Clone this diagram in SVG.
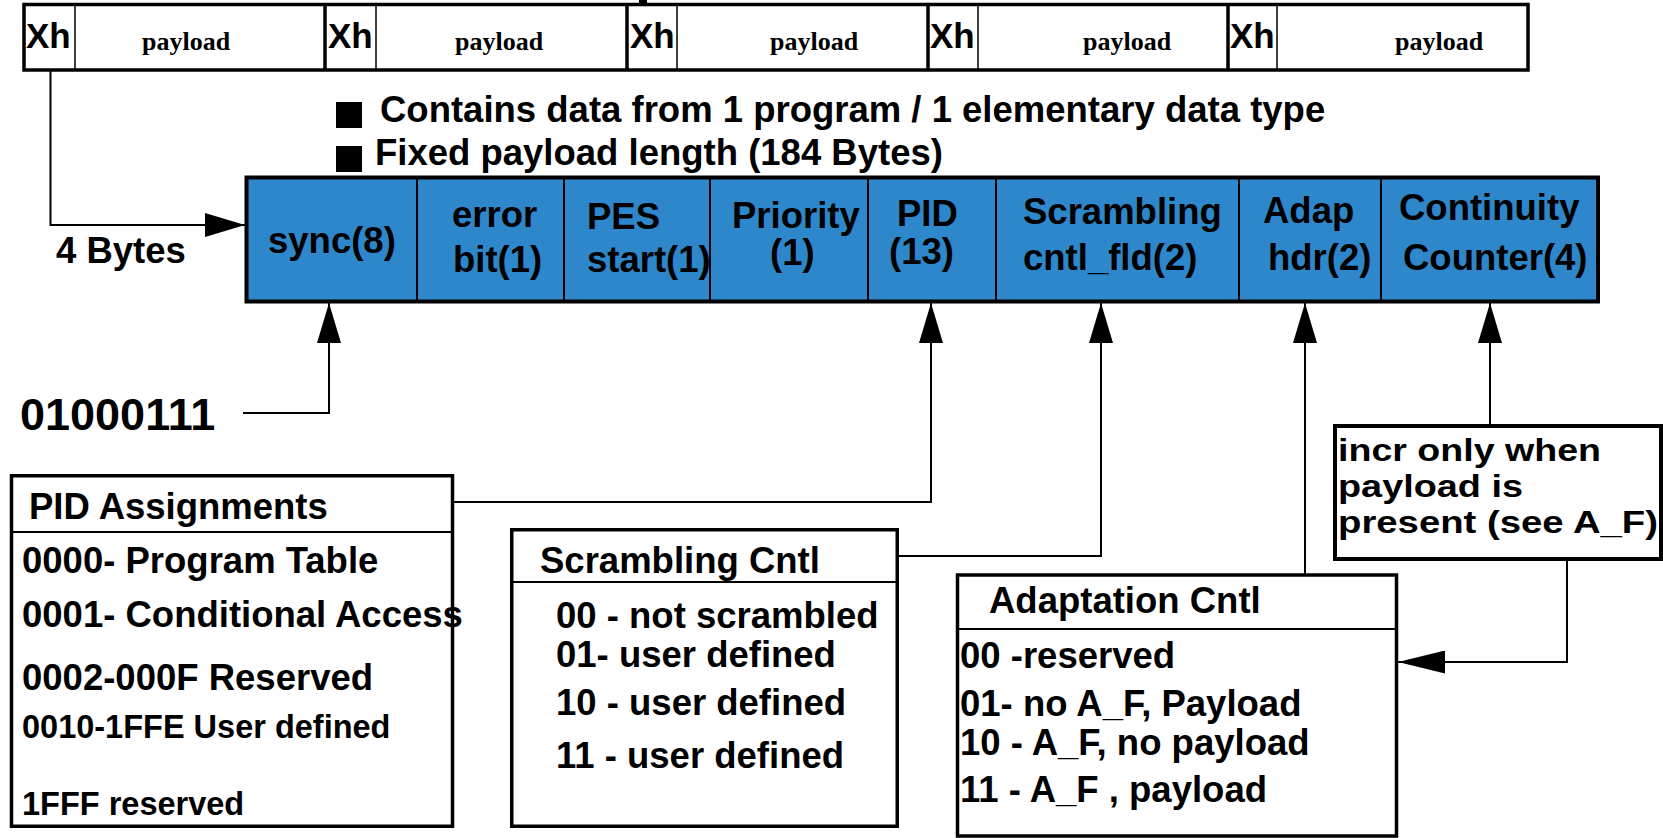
<svg xmlns="http://www.w3.org/2000/svg" width="1663" height="838" viewBox="0 0 1663 838">
<defs>
<style>
.t{font-family:"Liberation Sans",Arial,sans-serif;font-weight:bold;fill:#000}
.s36{font-size:36.5px}
.s32{font-size:32.5px}
.pl{font-family:"Liberation Serif","Times New Roman",serif;font-weight:bold;font-size:26px;fill:#000}
.xh{font-family:"Liberation Sans",Arial,sans-serif;font-weight:bold;font-size:35px}
.box{fill:#fff;stroke:#000;stroke-width:3.5}
.sep{stroke:#000;stroke-width:2}
.thin{stroke:#000;stroke-width:1.5}
.thick{stroke:#000;stroke-width:3.5}
.con{fill:none;stroke:#000;stroke-width:2}
</style>
<marker id="ah" viewBox="0 0 40 24" refX="40" refY="12" markerWidth="40" markerHeight="24" markerUnits="userSpaceOnUse" orient="auto">
<path d="M0,0 L40,12 L0,24 Z" fill="#000"/>
</marker>
<marker id="ah2" viewBox="0 0 47 23" refX="47" refY="11.5" markerWidth="47" markerHeight="23" markerUnits="userSpaceOnUse" orient="auto">
<path d="M0,0 L47,11.5 L0,23 Z" fill="#000"/>
</marker>
</defs>
<rect width="1663" height="838" fill="#fff"/>

<g id="packet-stream">
<rect x="24" y="4.5" width="1504" height="65.5" class="box"/>
<line x1="325" y1="4.5" x2="325" y2="70" class="thick"/>
<line x1="627" y1="4.5" x2="627" y2="70" class="thick"/>
<line x1="928" y1="4.5" x2="928" y2="70" class="thick"/>
<line x1="1228" y1="4.5" x2="1228" y2="70" class="thick"/>
<line x1="75" y1="4.5" x2="75" y2="70" class="thin"/>
<line x1="376" y1="4.5" x2="376" y2="70" class="thin"/>
<line x1="677" y1="4.5" x2="677" y2="70" class="thin"/>
<line x1="978" y1="4.5" x2="978" y2="70" class="thin"/>
<line x1="1277" y1="4.5" x2="1277" y2="70" class="thin"/>
<rect x="639" y="0" width="8" height="3" fill="#000"/>
<text x="26" y="48" class="xh">Xh</text>
<text x="328" y="48" class="xh">Xh</text>
<text x="630" y="48" class="xh">Xh</text>
<text x="930" y="48" class="xh">Xh</text>
<text x="1230" y="48" class="xh">Xh</text>
<text x="142" y="50" class="pl">payload</text>
<text x="455" y="50" class="pl">payload</text>
<text x="770" y="50" class="pl">payload</text>
<text x="1083" y="50" class="pl">payload</text>
<text x="1395" y="50" class="pl">payload</text>
</g>

<g id="bullets">
<rect x="336" y="102" width="26" height="26" fill="#000"/>
<text x="380" y="122" class="t s36">Contains data from 1 program / 1 elementary data type</text>
<rect x="336" y="146" width="26" height="26" fill="#000"/>
<text x="375" y="165" class="t s36">Fixed payload length (184 Bytes)</text>
</g>

<g id="ts-header">
<rect x="246.5" y="177.5" width="1351.5" height="124" fill="#2d87ca" stroke="#000" stroke-width="4"/>
<line x1="417" y1="177.5" x2="417" y2="301.5" class="sep"/>
<line x1="564" y1="177.5" x2="564" y2="301.5" class="sep"/>
<line x1="710" y1="177.5" x2="710" y2="301.5" class="sep"/>
<line x1="868" y1="177.5" x2="868" y2="301.5" class="sep"/>
<line x1="996" y1="177.5" x2="996" y2="301.5" class="sep"/>
<line x1="1239" y1="177.5" x2="1239" y2="301.5" class="sep"/>
<line x1="1381" y1="177.5" x2="1381" y2="301.5" class="sep"/>
<text x="268" y="253" class="t s36">sync(8)</text>
<text x="452" y="227" class="t s36">error</text>
<text x="453" y="272" class="t s36">bit(1)</text>
<text x="587" y="229" class="t s36">PES</text>
<text x="587" y="272" class="t s36">start(1)</text>
<text x="732" y="228" class="t s36">Priority</text>
<text x="770" y="265" class="t s36">(1)</text>
<text x="897" y="226" class="t s36">PID</text>
<text x="889" y="264" class="t s36">(13)</text>
<text x="1023" y="224" class="t s36">Scrambling</text>
<text x="1023" y="270" class="t s36">cntl_fld(2)</text>
<text x="1263" y="223" class="t s36">Adap</text>
<text x="1268" y="270" class="t s36">hdr(2)</text>
<text x="1399" y="220" class="t s36">Continuity</text>
<text x="1403" y="270" class="t s36">Counter(4)</text>
</g>

<g id="labels">
<text x="56" y="263" class="t s36">4 Bytes</text>
<text x="20" y="430" class="t" font-size="45">01000111</text>
</g>

<g id="pid-box">
<rect x="11.5" y="475.75" width="441" height="350.5" class="box"/>
<line x1="11.5" y1="532" x2="452.5" y2="532" class="sep"/>
<text x="29" y="519" class="t s36">PID Assignments</text>
<text x="22" y="573" class="t s36">0000- Program Table</text>
<text x="22" y="627" class="t s36">0001- Conditional Access</text>
<text x="22" y="690" class="t s36">0002-000F Reserved</text>
<text x="22" y="738" class="t s32">0010-1FFE User defined</text>
<text x="22" y="815" class="t s32">1FFF reserved</text>
</g>

<g id="scrambling-box">
<rect x="511.75" y="529.75" width="385.5" height="296.5" class="box"/>
<line x1="511.75" y1="582" x2="897.25" y2="582" class="sep"/>
<text x="540" y="573" class="t s36">Scrambling Cntl</text>
<text x="556" y="628" class="t s36">00 - not scrambled</text>
<text x="556" y="667" class="t s36">01- user defined</text>
<text x="556" y="715" class="t s36">10 - user defined</text>
<text x="556" y="768" class="t s36">11 - user defined</text>
</g>

<g id="adaptation-box">
<rect x="957.5" y="575" width="439" height="261" class="box"/>
<line x1="957.5" y1="629" x2="1396.5" y2="629" class="sep"/>
<text x="989" y="613" class="t s36">Adaptation Cntl</text>
<text x="960" y="668" class="t s36">00 -reserved</text>
<text x="960" y="716" class="t s36">01- no A_F, Payload</text>
<text x="960" y="755" class="t s36">10 - A_F, no payload</text>
<text x="960" y="802" class="t s36">11 - A_F , payload</text>
</g>

<g id="continuity-note">
<rect x="1335" y="426" width="326" height="133" fill="#fff" stroke="#000" stroke-width="4"/>
<text x="1338" y="461" class="t" font-size="32" textLength="263" lengthAdjust="spacingAndGlyphs">incr only when</text>
<text x="1338" y="497" class="t" font-size="32" textLength="185" lengthAdjust="spacingAndGlyphs">payload is</text>
<text x="1338" y="533" class="t" font-size="32" textLength="320" lengthAdjust="spacingAndGlyphs">present (see A_F)</text>
</g>

<g id="connectors">
<path d="M50.5,70 V225 H245" class="con" marker-end="url(#ah)"/>
<path d="M243,413 H329 V303" class="con" marker-end="url(#ah)"/>
<path d="M454,502 H931 V303" class="con" marker-end="url(#ah)"/>
<path d="M899,556 H1101 V303" class="con" marker-end="url(#ah)"/>
<path d="M1305,575 V303" class="con" marker-end="url(#ah)"/>
<path d="M1490,424 V303" class="con" marker-end="url(#ah)"/>
<path d="M1567,561 V662 H1398" class="con" marker-end="url(#ah2)"/>
</g>
</svg>
